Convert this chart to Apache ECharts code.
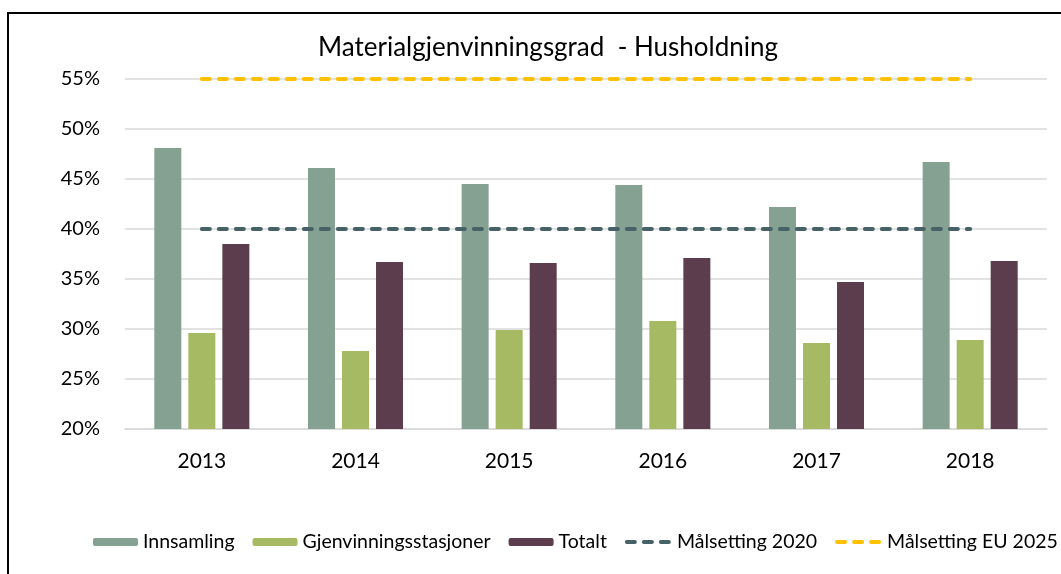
<!DOCTYPE html>
<html>
<head>
<meta charset="utf-8">
<script src="https://cdn.jsdelivr.net/npm/echarts@6/dist/echarts.min.js"></script>
<style>
  html, body { margin: 0; padding: 0; background: #fff; }
  #chart { width: 1061px; height: 574px; }
</style>
</head>
<body>
<div id="chart"></div>
<script>
const years = ['2013', '2014', '2015', '2016', '2017', '2018'];
const innsamling = [48.1, 46.1, 44.5, 44.4, 42.2, 46.7];
const gjenvinningsstasjoner = [29.6, 27.8, 29.9, 30.8, 28.6, 28.9];
const totalt = [38.5, 36.7, 36.6, 37.1, 34.7, 36.8];
const maal2020 = [40, 40, 40, 40, 40, 40];
const maalEU2025 = [55, 55, 55, 55, 55, 55];

const font = 'Lato, "Open Sans", sans-serif';
const chart = echarts.init(document.getElementById('chart'));

// line legend icons should show only the thick dashes, no dot
const hideDot = {color: 'rgba(0,0,0,0)', borderColor: 'rgba(0,0,0,0)'};
const thickDash = {width: 4, type: [8, 9], cap: 'round'};

chart.setOption({
  animation: false,
  textStyle: {fontFamily: font},
  graphic: [{
    type: 'rect',
    shape: {x: 8, y: 13, width: 1200, height: 700},
    style: {fill: 'none', stroke: '#000', lineWidth: 2},
    silent: true
  }],
  title: {
    text: 'Materialgjenvinningsgrad  - Husholdning',
    left: 543,
    top: 30,
    textAlign: 'center',
    textStyle: {fontFamily: font, fontSize: 26, fontWeight: 'normal', color: '#000'}
  },
  legend: {
    left: 88,
    top: 527,
    width: 1300,
    itemWidth: 45,
    itemHeight: 8,
    itemGap: 18,
    textStyle: {fontFamily: font, fontSize: 19.5, color: '#000'},
    data: [
      'Innsamling',
      'Gjenvinningsstasjoner',
      'Totalt',
      {name: 'Målsetting 2020', itemStyle: hideDot, lineStyle: thickDash},
      {name: 'Målsetting EU 2025', itemStyle: hideDot, lineStyle: thickDash}
    ]
  },
  grid: {left: 125, right: 14, top: 79, bottom: 145},
  xAxis: {
    type: 'category',
    data: years,
    axisTick: {show: false},
    axisLine: {lineStyle: {color: '#d9d9d9', width: 1.5}},
    axisLabel: {margin: 22, fontSize: 21, color: '#000', fontFamily: font}
  },
  yAxis: {
    type: 'value',
    min: 20,
    max: 55,
    interval: 5,
    axisLine: {show: false},
    axisTick: {show: false},
    splitLine: {lineStyle: {color: '#d9d9d9', width: 1.5}},
    axisLabel: {margin: 25, fontSize: 20, color: '#000', fontFamily: font, formatter: '{value}%'}
  },
  series: [
    {name: 'Innsamling', type: 'bar', data: innsamling, barWidth: 27, barGap: '26%',
      itemStyle: {color: '#84a192'}},
    {name: 'Gjenvinningsstasjoner', type: 'bar', data: gjenvinningsstasjoner, barWidth: 27, barGap: '26%',
      itemStyle: {color: '#a5ba62'}},
    {name: 'Totalt', type: 'bar', data: totalt, barWidth: 27, barGap: '26%',
      itemStyle: {color: '#5c3d4e'}},
    {name: 'Målsetting 2020', type: 'line', data: maal2020, symbol: 'none', z: 5,
      itemStyle: {color: '#476266'},
      lineStyle: {color: '#476266', width: 4, type: [8, 9], cap: 'round'}},
    {name: 'Målsetting EU 2025', type: 'line', data: maalEU2025, symbol: 'none', z: 5,
      itemStyle: {color: '#ffc000'},
      lineStyle: {color: '#ffc000', width: 4, type: [8, 9], cap: 'round'}}
  ]
});
</script>
</body>
</html>
